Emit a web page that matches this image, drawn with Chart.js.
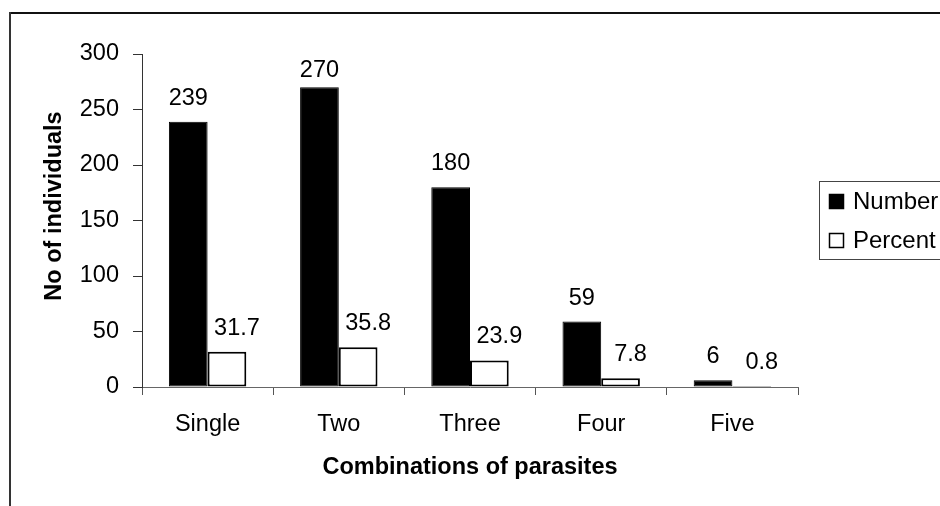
<!DOCTYPE html>
<html>
<head>
  <meta charset="utf-8">
  <title>Combinations of parasites</title>
  <script src="https://cdn.jsdelivr.net/npm/chart.js"></script>
  <style>
    body { margin:0; background:#fff; }
    #wrap { width:940px; height:506px; }
  </style>
</head>
<body>
  <div id="wrap"><canvas id="chart" width="940" height="506"></canvas></div>

  <script>
    // ---------------- Data ----------------
    const categories = ["Single", "Two", "Three", "Four", "Five"];
    const numberValues = [239, 270, 180, 59, 6];
    const percentValues = [31.7, 35.8, 23.9, 7.8, 0.8];
    const yTicks = [0, 50, 100, 150, 200, 250, 300];

    const FONT = '"Liberation Sans", Arial, sans-serif';

    // ---------------- Frame, y title + legend (legend runs off the edge) ----------------
    const framePlugin = {
      id: "frame",
      beforeDraw(chart) {
        const ctx = chart.ctx;
        ctx.save();
        ctx.fillStyle = "#fff";
        ctx.fillRect(0, 0, chart.width, chart.height);
        ctx.lineWidth = 2;
        ctx.strokeStyle = "#111";
        ctx.beginPath(); ctx.moveTo(9, 13); ctx.lineTo(chart.width, 13); ctx.stroke();
        ctx.strokeStyle = "#333";
        ctx.beginPath(); ctx.moveTo(10, 12); ctx.lineTo(10, chart.height); ctx.stroke();
        ctx.restore();
      },
      afterDraw(chart) {
        const ctx = chart.ctx;
        ctx.save();
        // y axis title, sits a little above the plot centre like the original
        ctx.translate(55, 206);
        ctx.rotate(-Math.PI / 2);
        ctx.font = "bold 23.5px " + FONT;
        ctx.fillStyle = "#000";
        ctx.textAlign = "center";
        ctx.textBaseline = "middle";
        ctx.fillText("No of individuals", 0, 0);
        ctx.restore();

        ctx.save();
        ctx.strokeStyle = "#444";
        ctx.lineWidth = 1;
        ctx.strokeRect(819.5, 181.5, 140, 78);
        ctx.font = "24px " + FONT;
        ctx.textBaseline = "alphabetic";
        ctx.textAlign = "left";
        chart.data.datasets.forEach((ds, i) => {
          const y = 194 + i * 39;
          ctx.fillStyle = ds.backgroundColor;
          ctx.fillRect(829.5, y + 0.5, 14, 14);
          ctx.strokeStyle = "#000";
          ctx.lineWidth = 1.5;
          ctx.strokeRect(829.5, y + 0.5, 14, 14);
          ctx.fillStyle = "#000";
          ctx.fillText(ds.label, 853, y + 15);
        });
        ctx.restore();
      }
    };

    // ---------------- Value labels above bars ----------------
    const labelPlugin = {
      id: "valueLabels",
      afterDatasetsDraw(chart) {
        const ctx = chart.ctx;
        ctx.save();
        ctx.font = "23.5px " + FONT;
        ctx.fillStyle = "#000";
        ctx.textAlign = "center";
        ctx.textBaseline = "alphabetic";
        chart.data.datasets.forEach((ds, di) => {
          const meta = chart.getDatasetMeta(di);
          meta.data.forEach((el, i) => {
            const shift = di === 1 ? 10 : 0;
            const y = Math.max(el.y - 17, chart.chartArea.top + 23);
            ctx.fillText(String(ds.data[i]), el.x + shift, y);
          });
        });
        ctx.restore();
      }
    };

    // ---------------- Chart ----------------
    new Chart(document.getElementById("chart"), {
      type: "bar",
      data: {
        labels: categories,
        datasets: [
          { label: "Number", data: numberValues, backgroundColor: "#000", borderColor: "#000", borderWidth: 1, borderSkipped: false },
          { label: "Percent", data: percentValues, backgroundColor: "#fff", borderColor: "#000", borderWidth: 2, borderSkipped: false }
        ]
      },
      options: {
        responsive: false,
        animation: false,
        layout: { padding: { left: 0, top: 54, right: 142, bottom: 0 } },
        datasets: { bar: { categoryPercentage: 0.59, barPercentage: 1 } },
        plugins: { legend: { display: false }, tooltip: { enabled: false } },
        scales: {
          x: {
            afterFit: s => { s.height = 119; },
            grid: { drawOnChartArea: false, drawTicks: true, tickLength: 8, color: "#555", offset: true },
            border: { display: true, color: "#666", width: 1 },
            ticks: { color: "#000", padding: 15, font: { family: FONT, size: 23.5 } },
            title: { display: true, text: "Combinations of parasites", color: "#000",
                     font: { family: FONT, size: 23.5, weight: "bold" }, padding: { top: 0, bottom: 24 } }
          },
          y: {
            min: 0, max: 300,
            afterFit: s => { s.width = 142; },
            afterBuildTicks: s => { s.ticks = yTicks.map(v => ({ value: v })); },
            grid: { drawOnChartArea: false, drawTicks: true, tickLength: 9, color: "#333" },
            border: { display: true, color: "#333", width: 1 },
            ticks: { color: "#000", padding: 14, font: { family: FONT, size: 23.5 } },
            title: { display: false }
          }
        }
      },
      plugins: [framePlugin, labelPlugin]
    });
  </script>
</body>
</html>
